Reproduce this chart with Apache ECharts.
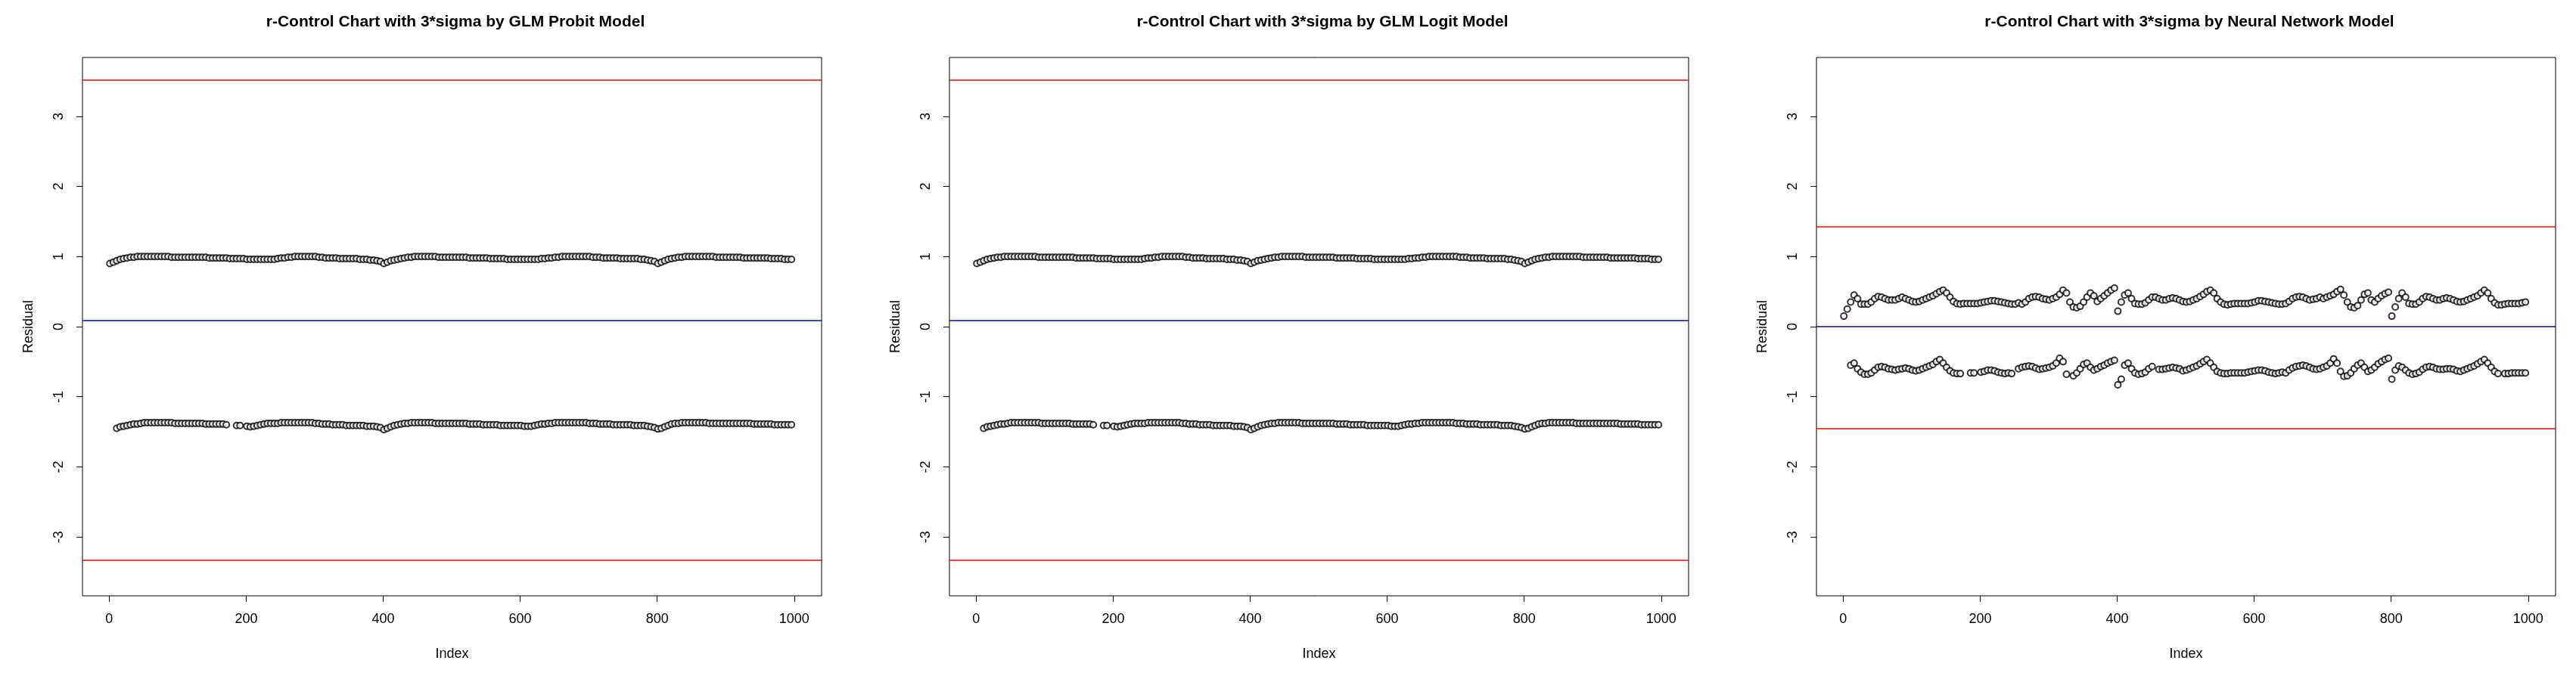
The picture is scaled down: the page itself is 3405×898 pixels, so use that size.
<!DOCTYPE html>
<html>
<head>
<meta charset="utf-8">
<script src="https://cdn.jsdelivr.net/npm/echarts@6/dist/echarts.min.js"></script>
<style>html,body{margin:0;background:#fff}#chart{width:3405px;height:898px}</style>
</head>
<body>
<div id="chart"></div>
<script>
//Données (un point tous les 5 index : 1, 6, 11, ...)
const titres = [
  'r-Control Chart with 3*sigma by GLM Probit Model',
  'r-Control Chart with 3*sigma by GLM Logit Model',
  'r-Control Chart with 3*sigma by Neural Network Model'
];
const xTicks = [0, 200, 400, 600, 800, 1000];
const yTicks = [-3, -2, -1, 0, 1, 2, 3];

const glmHaut = [
  0.90,0.92,0.94,0.96,0.97,0.98,0.99,0.99,1.00,1.00,1.00,1.00,1.00,1.00,1.00,1.00,1.00,1.00,0.99,0.99,
  0.99,0.99,0.99,0.99,0.99,0.99,0.99,0.99,0.99,0.98,0.98,0.98,0.98,0.98,0.98,0.97,0.97,0.97,0.97,0.97,
  0.96,0.96,0.96,0.96,0.96,0.96,0.96,0.96,0.96,0.97,0.98,0.98,0.99,0.99,1.00,1.00,1.00,1.00,1.00,1.00,
  1.00,0.99,0.99,0.98,0.98,0.98,0.98,0.97,0.97,0.97,0.97,0.97,0.97,0.96,0.96,0.96,0.95,0.95,0.94,0.93,
  0.90,0.92,0.94,0.95,0.96,0.97,0.98,0.99,0.99,1.00,1.00,1.00,1.00,1.00,1.00,1.00,0.99,0.99,0.99,0.99,
  0.99,0.99,0.99,0.99,0.99,0.98,0.98,0.98,0.98,0.98,0.98,0.97,0.97,0.97,0.97,0.97,0.96,0.96,0.96,0.96,
  0.96,0.96,0.96,0.96,0.96,0.96,0.97,0.97,0.98,0.98,0.99,0.99,1.00,1.00,1.00,1.00,1.00,1.00,1.00,1.00,
  1.00,0.99,0.99,0.99,0.98,0.98,0.98,0.98,0.98,0.97,0.97,0.97,0.97,0.97,0.97,0.96,0.96,0.95,0.94,0.93,
  0.90,0.92,0.94,0.96,0.97,0.98,0.99,0.99,1.00,1.00,1.00,1.00,1.00,1.00,1.00,1.00,1.00,0.99,0.99,0.99,
  0.99,0.99,0.99,0.99,0.99,0.98,0.98,0.98,0.98,0.98,0.98,0.98,0.98,0.97,0.97,0.97,0.97,0.96,0.96,0.96
];
const glmBas = [
  null,null,-1.45,-1.43,-1.42,-1.41,-1.40,-1.39,-1.39,-1.38,-1.37,-1.37,-1.37,-1.37,-1.37,-1.37,-1.37,-1.37,-1.37,-1.38,
  -1.38,-1.38,-1.38,-1.38,-1.38,-1.38,-1.38,-1.38,-1.39,-1.39,-1.39,-1.39,-1.39,-1.39,-1.40,null,null,-1.41,-1.41,null,
  -1.42,-1.43,-1.42,-1.41,-1.40,-1.39,-1.38,-1.38,-1.38,-1.38,-1.37,-1.37,-1.37,-1.37,-1.37,-1.37,-1.37,-1.37,-1.37,-1.37,
  -1.38,-1.38,-1.39,-1.39,-1.39,-1.40,-1.40,-1.40,-1.40,-1.41,-1.41,-1.41,-1.41,-1.41,-1.41,-1.42,-1.42,-1.42,-1.43,-1.44,
  -1.47,-1.45,-1.43,-1.41,-1.40,-1.39,-1.38,-1.38,-1.37,-1.37,-1.37,-1.37,-1.37,-1.37,-1.37,-1.38,-1.38,-1.38,-1.38,-1.38,
  -1.38,-1.38,-1.38,-1.38,-1.38,-1.39,-1.39,-1.39,-1.39,-1.40,-1.40,-1.40,-1.40,-1.40,-1.41,-1.41,-1.41,-1.41,-1.41,-1.41,
  -1.41,-1.42,-1.42,-1.42,-1.41,-1.40,-1.39,-1.39,-1.38,-1.38,-1.37,-1.37,-1.37,-1.37,-1.37,-1.37,-1.37,-1.37,-1.37,-1.37,
  -1.38,-1.38,-1.38,-1.39,-1.39,-1.39,-1.39,-1.40,-1.40,-1.40,-1.40,-1.40,-1.40,-1.41,-1.41,-1.41,-1.41,-1.42,-1.43,-1.44,
  -1.46,-1.45,-1.43,-1.41,-1.39,-1.38,-1.38,-1.37,-1.37,-1.37,-1.37,-1.37,-1.37,-1.37,-1.37,-1.38,-1.38,-1.38,-1.38,-1.38,
  -1.38,-1.38,-1.38,-1.38,-1.38,-1.38,-1.38,-1.38,-1.39,-1.39,-1.39,-1.39,-1.39,-1.39,-1.40,-1.40,-1.40,-1.40,-1.40,-1.40
];
const nnHaut = [
  0.15,0.25,0.35,0.45,0.40,0.32,0.32,0.32,0.35,0.40,0.43,0.42,0.40,0.38,0.38,0.38,0.40,0.42,0.40,0.38,
  0.36,0.35,0.36,0.38,0.40,0.42,0.44,0.47,0.50,0.52,0.48,0.42,0.36,0.33,0.32,0.33,0.33,0.33,0.33,0.33,
  0.34,0.35,0.36,0.37,0.37,0.36,0.35,0.34,0.33,0.32,0.32,0.34,0.32,0.35,0.40,0.42,0.43,0.42,0.40,0.39,
  0.38,0.40,0.42,0.46,0.52,0.48,0.35,0.28,0.27,0.29,0.35,0.42,0.48,0.44,0.36,0.40,0.44,0.48,0.52,0.55,
  0.22,0.35,0.45,0.48,0.40,0.33,0.32,0.32,0.34,0.38,0.42,0.42,0.40,0.38,0.38,0.40,0.41,0.40,0.38,0.36,
  0.35,0.36,0.38,0.40,0.43,0.46,0.50,0.52,0.48,0.40,0.35,0.32,0.31,0.32,0.33,0.33,0.33,0.33,0.33,0.34,
  0.35,0.37,0.37,0.36,0.35,0.34,0.33,0.32,0.32,0.33,0.36,0.40,0.42,0.43,0.42,0.40,0.38,0.39,0.40,0.42,
  0.40,0.42,0.44,0.46,0.50,0.53,0.45,0.35,0.28,0.27,0.30,0.38,0.46,0.48,0.38,0.35,0.40,0.44,0.47,0.49,
  0.15,0.28,0.40,0.48,0.42,0.33,0.32,0.32,0.35,0.40,0.43,0.42,0.40,0.38,0.38,0.40,0.41,0.40,0.38,0.36,
  0.35,0.36,0.38,0.40,0.42,0.44,0.48,0.52,0.48,0.40,0.34,0.31,0.31,0.32,0.33,0.33,0.33,0.33,0.34,0.35
];
const nnBas = [
  null,null,-0.55,-0.52,-0.60,-0.65,-0.68,-0.68,-0.66,-0.62,-0.58,-0.57,-0.58,-0.60,-0.61,-0.62,-0.61,-0.60,-0.59,-0.60,
  -0.62,-0.63,-0.62,-0.60,-0.58,-0.56,-0.54,-0.50,-0.47,-0.52,-0.58,-0.63,-0.66,-0.67,-0.67,null,null,-0.66,-0.66,null,
  -0.65,-0.64,-0.62,-0.62,-0.63,-0.65,-0.66,-0.67,-0.66,-0.67,null,-0.60,-0.58,-0.57,-0.56,-0.57,-0.59,-0.61,-0.60,-0.59,
  -0.58,-0.56,-0.52,-0.45,-0.50,-0.68,null,-0.70,-0.66,-0.60,-0.54,-0.52,-0.58,-0.62,-0.60,-0.57,-0.55,-0.52,-0.50,-0.48,
  -0.83,-0.75,-0.55,-0.52,-0.60,-0.66,-0.68,-0.67,-0.65,-0.60,-0.57,null,-0.61,-0.61,-0.60,-0.59,-0.58,-0.59,-0.60,-0.63,
  -0.62,-0.60,-0.58,-0.56,-0.53,-0.50,-0.47,-0.52,-0.58,-0.64,-0.66,-0.67,-0.67,-0.66,-0.66,-0.66,-0.66,-0.66,-0.65,-0.64,
  -0.63,-0.62,-0.62,-0.63,-0.65,-0.66,-0.67,-0.66,-0.65,-0.66,-0.62,-0.59,-0.57,-0.56,-0.55,-0.56,-0.58,-0.60,-0.61,-0.60,
  -0.58,-0.56,-0.52,-0.46,-0.52,-0.64,-0.71,-0.70,-0.66,-0.60,-0.55,-0.52,-0.58,-0.64,-0.62,-0.58,-0.53,-0.50,-0.47,-0.45,
  -0.75,-0.62,-0.56,-0.58,-0.62,-0.66,-0.68,-0.67,-0.65,-0.61,-0.58,-0.57,-0.58,-0.60,-0.61,-0.61,-0.60,-0.60,-0.61,-0.63,
  -0.64,-0.62,-0.60,-0.58,-0.56,-0.53,-0.50,-0.47,-0.52,-0.58,-0.64,-0.67,null,-0.67,-0.67,-0.66,-0.66,-0.66,-0.66,-0.66
];
//Limites : [UCL, centre, LCL]
const limitesGlm = [3.52, 0.09, -3.33];
const limitesNn = [1.43, 0.0, -1.45];

const panneaux = [
  { haut: glmHaut, bas: glmBas, lim: limitesGlm },
  { haut: glmHaut, bas: glmBas, lim: limitesGlm },
  { haut: nnHaut, bas: nnBas, lim: limitesNn }
];

const toPts = arr => arr.map((v, i) => [i * 5 + 1, v]).filter(p => p[1] !== null);

const font = 'Liberation Sans, Arial, sans-serif';
const grids = [], xAxes = [], yAxes = [], titles = [], series = [];

panneaux.forEach((p, i) => {
  const left = i * 1146 + 109;
  grids.push({ left: left, top: 76, width: 977, height: 712, show: true, borderColor: '#000', borderWidth: 1, backgroundColor: 'transparent' });
  titles.push({ text: titres[i], left: left + 488, top: 14, textAlign: 'center',
    textStyle: { fontFamily: font, fontSize: 21, fontWeight: 'bold', color: '#000' } });
  xAxes.push({ gridIndex: i, type: 'value', min: -39, max: 1040, name: 'Index', nameLocation: 'middle', nameGap: 68,
    nameTextStyle: { fontFamily: font, fontSize: 18, color: '#000' },
    axisLine: { show: false, onZero: false }, splitLine: { show: false },
    axisTick: { show: true, customValues: xTicks, length: 8, lineStyle: { color: '#000' } },
    axisLabel: { customValues: xTicks, formatter: v => String(v), fontFamily: font, fontSize: 18, color: '#000', margin: 22 } });
  yAxes.push({ gridIndex: i, type: 'value', min: -3.84, max: 3.84, name: 'Residual', nameLocation: 'middle', nameGap: 62,
    nameTextStyle: { fontFamily: font, fontSize: 18, color: '#000' },
    axisLine: { show: false, onZero: false }, splitLine: { show: false },
    axisTick: { show: true, customValues: yTicks, length: 8, lineStyle: { color: '#000' } },
    axisLabel: { customValues: yTicks, formatter: v => String(v), rotate: 90, fontFamily: font, fontSize: 18, color: '#000', margin: 22 } });

  const pointStyle = { type: 'scatter', xAxisIndex: i, yAxisIndex: i, symbol: 'emptyCircle', symbolSize: 8,
    itemStyle: { color: '#000', borderColor: '#000', borderWidth: 1 }, silent: true };
  series.push({ ...pointStyle, data: toPts(p.haut) });
  series.push({ ...pointStyle, data: toPts(p.bas),
    markLine: { silent: true, symbol: 'none', label: { show: false },
      data: [
        { yAxis: p.lim[0], lineStyle: { color: '#ff0000', width: 1.5, type: 'solid' } },
        { yAxis: p.lim[1], lineStyle: { color: '#0000ff', width: 1.5, type: 'solid' } },
        { yAxis: p.lim[2], lineStyle: { color: '#ff0000', width: 1.5, type: 'solid' } }
      ] } });
});

let chart = echarts.init(document.getElementById('chart'));
chart.setOption({
  animation: false,
  backgroundColor: '#fff',
  title: titles,
  grid: grids,
  xAxis: xAxes,
  yAxis: yAxes,
  series: series
});
</script>
</body>
</html>
